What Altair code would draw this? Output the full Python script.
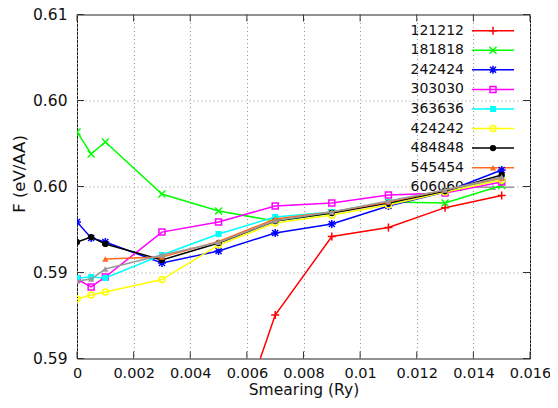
import altair as alt
import pandas as pd

# ---- data ----
smearing = [0, 0.0005, 0.001, 0.003, 0.005, 0.007, 0.009, 0.011, 0.013, 0.015]

s121212 = [None, None, None, None, 0.5829, 0.59253, 0.59709, 0.59762, 0.59877, 0.59948]
s181818 = [0.60317, 0.60189, 0.60259, 0.59956, 0.59858, 0.59799, 0.59846, 0.59910, 0.59904, 0.60006]
s242424 = [0.59794, 0.59701, 0.59677, 0.59555, 0.59625, 0.59730, 0.59782, 0.59887, 0.59968, 0.60096]
s303030 = [0.59462, 0.59416, 0.59474, 0.59735, 0.59794, 0.59887, 0.59904, 0.59951, 0.59962, 0.60026]
s363636 = [0.59468, 0.59474, 0.59468, 0.59602, 0.59724, 0.59823, 0.59852, 0.59910, 0.59974, 0.60049]
s424242 = [0.59346, 0.59369, 0.59387, 0.59459, 0.59660, 0.59788, 0.59834, 0.59892, 0.59968, 0.60038]
s484848 = [0.59677, 0.59706, 0.59666, 0.59573, 0.59671, 0.59799, 0.59846, 0.59904, 0.59974, 0.60067]
s545454 = [None, None, 0.59579, 0.59590, 0.59680, 0.59811, 0.59852, 0.59910, 0.59980, 0.60049]
s606060 = [0.59451, 0.59462, 0.59520, 0.59602, 0.59674, 0.59801, 0.59852, 0.59916, 0.59980, 0.60055]

series_names = ["121212", "181818", "242424", "303030", "363636",
                "424242", "484848", "545454", "606060"]
series_values = [s121212, s181818, s242424, s303030, s363636,
                 s424242, s484848, s545454, s606060]

x_ticks = [0, 0.002, 0.004, 0.006, 0.008, 0.01, 0.012, 0.014, 0.016]
y_ticks = [0.59, 0.595, 0.6, 0.605, 0.61]

# ---- styles ----
colors = ["#ff0000", "#00ff00", "#0000ff", "#ff00ff", "#00ffff",
          "#ffff00", "#000000", "#ff6a1f", "#999999"]
PLUS = "M-1,0L1,0M0,-1L0,1"
XSHAPE = "M-1,-1L1,1M-1,1L1,-1"
STAR = "M-1,0L1,0M0,-1L0,1M-0.75,-0.75L0.75,0.75M-0.75,0.75L0.75,-0.75"
shapes = [PLUS, XSHAPE, STAR, "square", "square", "circle", "circle",
          "triangle-up", "triangle-up"]
filled = [False, False, False, False, True, False, True, True, True]
sizes = [64, 49, 64, 36, 36, 36, 40, 40, 40]

W, H = 453, 344
FONT = "DejaVu Sans"

rows = []
for name, vals in zip(series_names, series_values):
    for xv, yv in zip(smearing, vals):
        if yv is not None:
            rows.append({"series": name, "x": xv, "y": yv})
df = pd.DataFrame(rows)

X = alt.X("x:Q", title="Smearing (Ry)",
          scale=alt.Scale(domain=[0, 0.016], nice=False, zero=False),
          axis=alt.Axis(values=x_ticks, format="~g", grid=True, ticks=False,
                        domain=False, labelPadding=8, labelOverlap=False,
                        labelFlush=False, labelFontSize=14.5,
                        titleX=W / 2, titleY=31, titleBaseline="middle",
                        titleFontSize=15.5))
Y = alt.Y("y:Q", title="F (eV/AA)",
          scale=alt.Scale(domain=[0.59, 0.61], nice=False, zero=False),
          axis=alt.Axis(values=y_ticks, format=".2f", grid=True, ticks=False,
                        domain=False, labelPadding=10, labelOverlap=False,
                        labelFlush=False,
                        titleX=-58, titleY=159, titleBaseline="middle",
                        titleAngle=-90, titleFontSize=16.5))

layers = []

# legend (drawn first so that data lines pass over it)
for i, (name, c, shp, f, s) in enumerate(zip(series_names, colors, shapes, filled, sizes)):
    ly = 16.2 + i * 19.57
    one = pd.DataFrame({"series": [name]})
    base = alt.Chart(one)
    layers.append(base.mark_text(align="right", baseline="middle", font=FONT,
                                 fontSize=14, color="#111").encode(
        x=alt.value(387), y=alt.value(ly), text="series:N"))
    layers.append(base.mark_rule(color=c, strokeWidth=1.5).encode(
        x=alt.value(395), x2=alt.value(437), y=alt.value(ly)))
    layers.append(base.mark_point(shape=shp, color=c, filled=f, size=s,
                                  strokeWidth=1.5, opacity=1).encode(
        x=alt.value(416), y=alt.value(ly)))

# data
for name, c, shp, f, s in zip(series_names, colors, shapes, filled, sizes):
    base = alt.Chart(df).transform_filter(alt.datum.series == name)
    layers.append(base.mark_line(color=c, strokeWidth=1.5, clip=True).encode(x=X, y=Y))
    layers.append(base.mark_point(shape=shp, color=c, filled=f, size=s,
                                  strokeWidth=1.5, opacity=1, clip=True).encode(x=X, y=Y))

# inward tick marks on all four sides
xt = pd.DataFrame({"x": x_ticks})
yt = pd.DataFrame({"y": y_ticks})
tick_col = "#333"
layers.append(alt.Chart(xt).mark_rule(color=tick_col).encode(
    x=X, y=alt.value(H), y2=alt.value(H - 7)))
layers.append(alt.Chart(xt).mark_rule(color=tick_col).encode(
    x=X, y=alt.value(0), y2=alt.value(7)))
layers.append(alt.Chart(yt).mark_rule(color=tick_col).encode(
    y=Y, x=alt.value(0), x2=alt.value(7)))
layers.append(alt.Chart(yt).mark_rule(color=tick_col).encode(
    y=Y, x=alt.value(W - 7), x2=alt.value(W)))

chart = alt.layer(*layers).properties(
    width=W, height=H,
    autosize=alt.AutoSizeParams(type="none"),
    padding={"left": 69, "top": 6.5, "right": 20, "bottom": 41},
).configure_view(
    stroke="#222", strokeWidth=1
).configure_axis(
    labelFont=FONT, labelFontSize=15.5, labelColor="#111",
    titleFont=FONT, titleFontSize=16, titleColor="#111", titleFontWeight="normal",
    gridColor="#999", gridDash=[1, 3], gridWidth=1,
)

chart.save("out.html", embed_options={"renderer": "svg", "actions": False})
